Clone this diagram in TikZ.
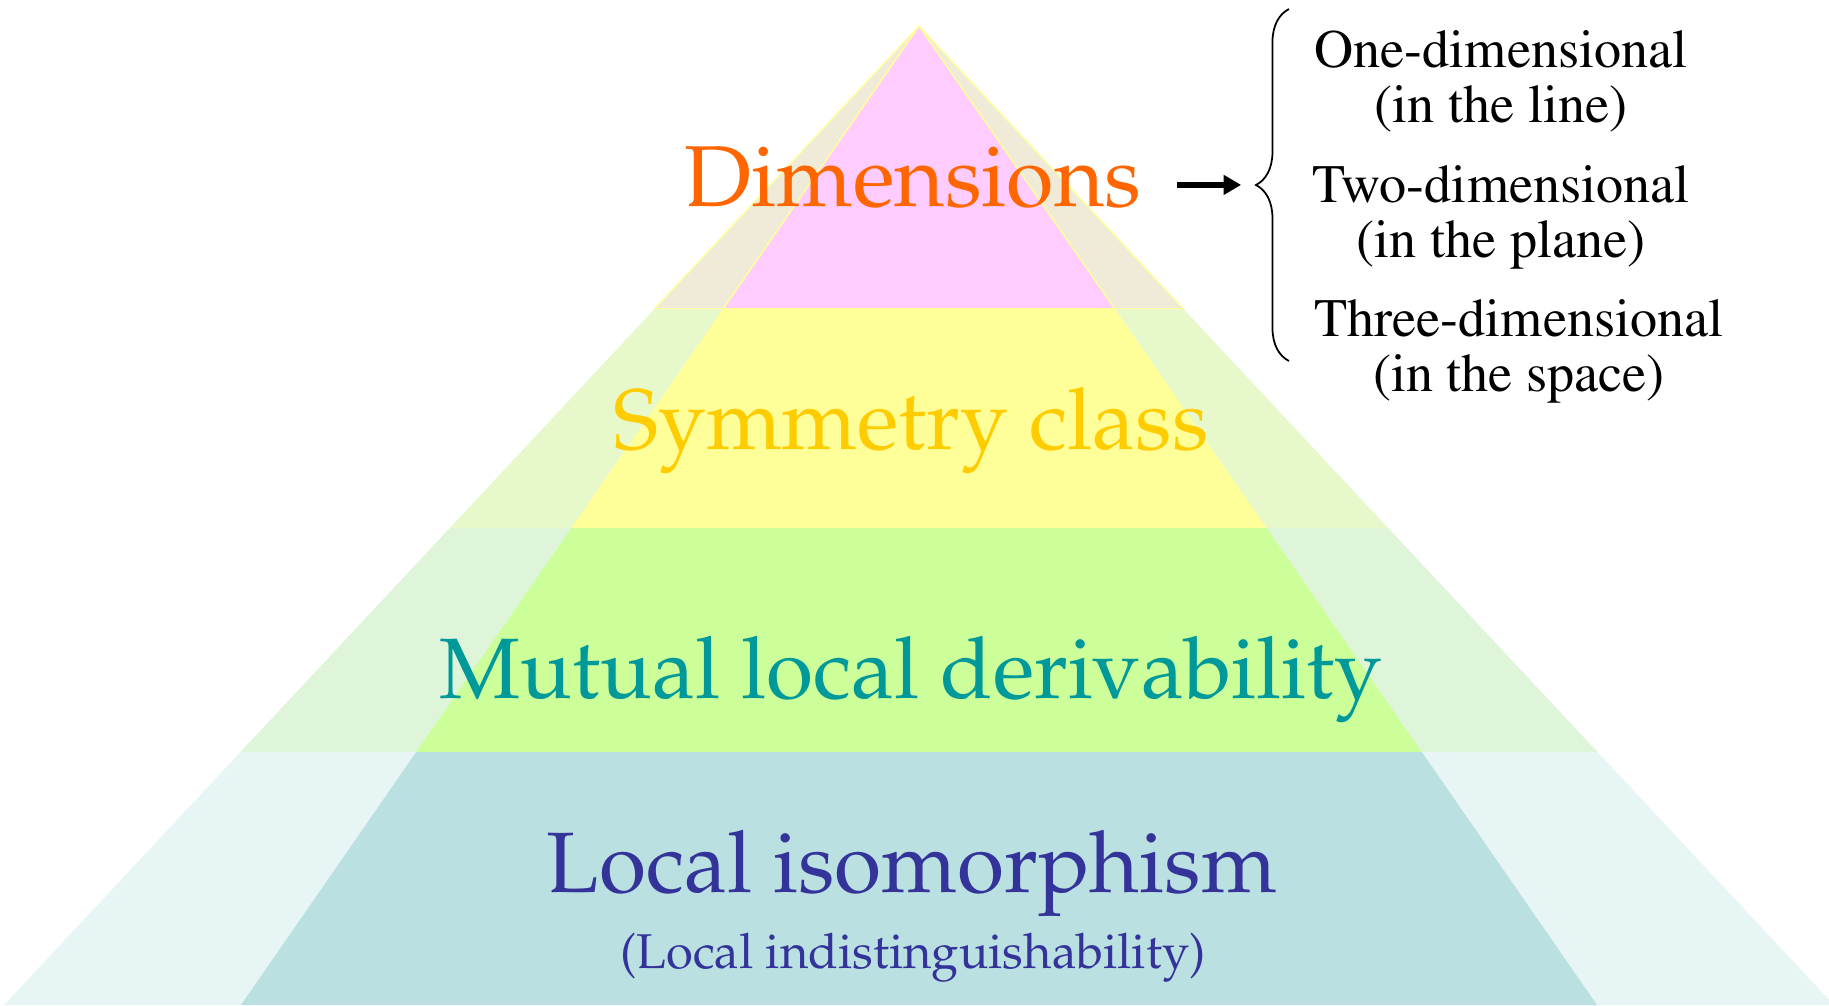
\documentclass[tikz,border=0pt]{standalone}
\usepackage[T1]{fontenc}
\usepackage{mathpazo}
\usetikzlibrary{calc,arrows.meta,decorations.pathreplacing}

\definecolor{pinkband}{HTML}{FFCCFF}
\definecolor{yellowband}{HTML}{FFFF99}
\definecolor{greenband}{HTML}{CCFF99}
\definecolor{blueband}{HTML}{BAE0E2}
\definecolor{pinkshade}{HTML}{EFEBD8}
\definecolor{yellowshade}{HTML}{E7F8CB}
\definecolor{greenshade}{HTML}{DFF5DA}
\definecolor{blueshade}{HTML}{E8F5F5}
\definecolor{dimorange}{HTML}{FF6600}
\definecolor{symgold}{HTML}{FFCC00}
\definecolor{mldteal}{HTML}{009999}
\definecolor{liblue}{HTML}{333399}

\begin{document}
\begin{tikzpicture}[
    x=0.01cm, y=-0.01cm,
    level/.style={font=\fontsize{24.4}{28}\selectfont, inner sep=0pt, anchor=base},
    choice/.style={font=\fontfamily{ptm}\fontsize{15.4}{15.4}\selectfont, align=center, inner sep=0pt, anchor=base},
    arrow/.style={-{Triangle[length=5pt,width=5.4pt]}, line width=1.5pt},
    edge/.style={draw=yellowband, line width=0.4pt},
]
\useasboundingbox (0,0) rectangle (1829,1005);

% apex and the two base lines
\coordinate (top) at (919,26);
\coordinate (inL) at (241,1005);
\coordinate (inR) at (1597,1005);
\coordinate (outL) at (4,1005);
\coordinate (outR) at (1834,1005);

% outer (pale) pyramid
\fill[pinkshade, edge] (top) -- ($(top)!0.289!(outL)$) -- ($(top)!0.289!(outR)$) -- cycle;
\fill[yellowshade] ($(top)!0.289!(outL)$) -- ($(top)!0.289!(outR)$) -- ($(top)!0.5128!(outR)$) -- ($(top)!0.5128!(outL)$) -- cycle;
\fill[greenshade] ($(top)!0.5128!(outL)$) -- ($(top)!0.5128!(outR)$) -- ($(top)!0.7416!(outR)$) -- ($(top)!0.7416!(outL)$) -- cycle;
\fill[blueshade] ($(top)!0.7416!(outL)$) -- ($(top)!0.7416!(outR)$) -- (outR) -- (outL) -- cycle;

% inner pyramid
\fill[pinkband, edge] (top) -- ($(top)!0.289!(inL)$) -- ($(top)!0.289!(inR)$) -- cycle;
\fill[yellowband] ($(top)!0.289!(inL)$) -- ($(top)!0.289!(inR)$) -- ($(top)!0.5128!(inR)$) -- ($(top)!0.5128!(inL)$) -- cycle;
\fill[greenband] ($(top)!0.5128!(inL)$) -- ($(top)!0.5128!(inR)$) -- ($(top)!0.7416!(inR)$) -- ($(top)!0.7416!(inL)$) -- cycle;
\fill[blueband] ($(top)!0.7416!(inL)$) -- ($(top)!0.7416!(inR)$) -- (inR) -- (inL) -- cycle;

\node[level, text=dimorange, font=\fontsize{24.6}{28}\selectfont] (dim) at (913,206) {Dimensions};
\node[level, text=symgold] (sym) at (911,449) {Symmetry class};
\node[level, text=mldteal] (mld) at (911,698) {Mutual local derivability};
\node[level, text=liblue] (li) at (912,892) {Local isomorphism};
\node[level, text=liblue, font=\fontsize{13.9}{16}\selectfont] (lind) at (913,968) {(Local indistinguishability)};

\node[choice] (one) at (1501,122) {One-dimensional\\(in the line)};
\node[choice] (two) at (1501,257) {Two-dimensional\\(in the plane)};
\node[choice] (three) at (1519,391) {Three-dimensional\\(in the space)};

\coordinate (braceB) at (1289,361);
\coordinate (braceT) at (1289,9);
\coordinate (bracetip) at (1257,185);
\draw[decorate, decoration={brace, amplitude=9.4pt}, line width=0.5pt] (braceB) -- (braceT);
\draw[arrow, shorten <=10pt, shorten >=4.5pt] ([yshift=6pt]dim.base east) -- ([yshift=6pt]dim.base east -| bracetip);
\end{tikzpicture}
\end{document}
